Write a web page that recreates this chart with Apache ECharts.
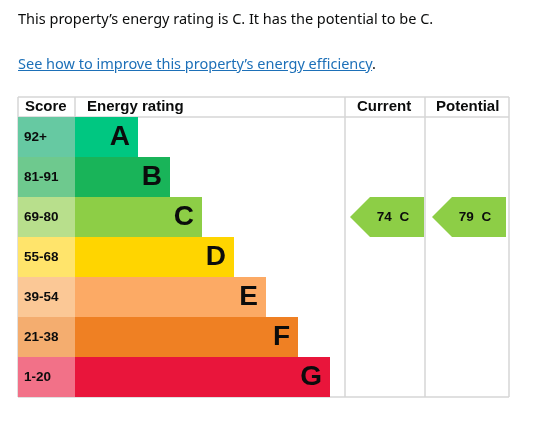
<!DOCTYPE html>
<html><head><meta charset="utf-8">
<script src="https://cdn.jsdelivr.net/npm/echarts@6/dist/echarts.min.js"></script>
<style>
body{margin:0;background:#fff;width:536px;height:422px;overflow:hidden;font-family:"Noto Sans",Arial,sans-serif;color:#0b0c0c;position:relative}
#t1{position:absolute;left:18px;top:8px;font-size:14.5px}
#t2{position:absolute;left:18px;top:53px;font-size:14.5px}
#t2 a{color:#1d70b8;text-decoration:underline}
#c{position:absolute;left:0;top:0;width:536px;height:422px}
</style></head><body>
<div id="c"></div>
<div id="t1">This property’s energy rating is C. It has the potential to be C.</div>
<div id="t2"><a>See how to improve this property’s energy efficiency</a>.</div>
<script>
const bands = ['A','B','C','D','E','F','G'];
const scores = ['92+','81-91','69-80','55-68','39-54','21-38','1-20'];
const barLengths = [63,95,127,159,191,223,255];
const bandColors = ['#00c781','#19b459','#8dce46','#ffd500','#fcaa65','#ef8023','#e9153b'];
const scoreColors = ['#66c9a2','#6ec98e','#b8df8c','#ffe46b','#fbc896','#f4ad6f','#f27188'];
const ratings = [['Current',74,'C'],['Potential',79,'C']];
const headers = ['Score','Energy rating','Current','Potential'];

const chart = echarts.init(document.getElementById('c'));
const F = 'Liberation Sans, Arial, sans-serif';
const rowIdx = b => bands.indexOf(b);
const line = (x1,y1,x2,y2)=>({type:'line',shape:{x1,y1,x2,y2},style:{stroke:'#d6d6d6',lineWidth:1.5},silent:true});
chart.setOption({
  animation:false,
  grid:[
    {left:18,top:117,width:57,height:280},
    {left:75,top:117,width:270,height:280},
    {left:345,top:117,width:164,height:280}
  ],
  xAxis:[
    {gridIndex:0,type:'value',min:0,max:1,show:false},
    {gridIndex:1,type:'value',min:0,max:270,show:false},
    {gridIndex:2,type:'category',data:ratings.map(r=>r[0]),show:false}
  ],
  yAxis:[0,1,2].map(i=>({gridIndex:i,type:'category',data:bands,inverse:true,show:false})),
  graphic:[
    line(18,97,509,97),line(18,117,509,117),line(18,397,509,397),
    line(18,97,18,397),line(509,97,509,397),line(75,97,75,117),
    line(345,97,345,397),line(425,97,425,397),
    {type:'text',left:25,top:99,style:{text:headers[0],font:'bold 15px '+F,fill:'#0b0c0c'}},
    {type:'text',left:87,top:99,style:{text:headers[1],font:'bold 15px '+F,fill:'#0b0c0c'}},
    {type:'text',left:357,top:99,style:{text:headers[2],font:'bold 15px '+F,fill:'#0b0c0c'}},
    {type:'text',left:436,top:99,style:{text:headers[3],font:'bold 15px '+F,fill:'#0b0c0c'}}
  ],
  series:[
    {type:'bar',xAxisIndex:0,yAxisIndex:0,barCategoryGap:0,
     data:scores.map((s,i)=>({value:1,itemStyle:{color:scoreColors[i]},label:{formatter:s}})),
     label:{show:true,position:'insideLeft',distance:6,color:'#0b0c0c',fontFamily:F,fontWeight:'bold',fontSize:13.5}},
    {type:'bar',xAxisIndex:1,yAxisIndex:1,barCategoryGap:0,
     data:barLengths.map((v,i)=>({value:v,itemStyle:{color:bandColors[i]}})),
     label:{show:true,position:'insideRight',distance:8,color:'#0b0c0c',fontFamily:F,fontWeight:'bold',fontSize:28,
            formatter:p=>bands[p.dataIndex]}},
    {type:'custom',xAxisIndex:2,yAxisIndex:2,
     data:ratings.map((r,i)=>[i,rowIdx(r[2]),r[1],r[2]]),
     renderItem:(params,api)=>{
       const c=api.coord([api.value(0),api.value(1)]);
       const s=api.size([1,1]);
       const l=c[0]-s[0]/2+5, r=c[0]+s[0]/2-3, t=c[1]-s[1]/2, b=c[1]+s[1]/2;
       const col=bandColors[api.value(1)];
       return {type:'group',children:[
         {type:'polygon',shape:{points:[[l,c[1]],[l+20,t],[r,t],[r,b],[l+20,b]]},style:{fill:col}},
         {type:'text',x:(l+12+r)/2,y:c[1],style:{text:api.value(2)+'  '+ratings[params.dataIndex][2],
           font:'bold 13.5px '+F,fill:'#0b0c0c',align:'center',verticalAlign:'middle'}}
       ]};
     }}
  ]
});
</script></body></html>
